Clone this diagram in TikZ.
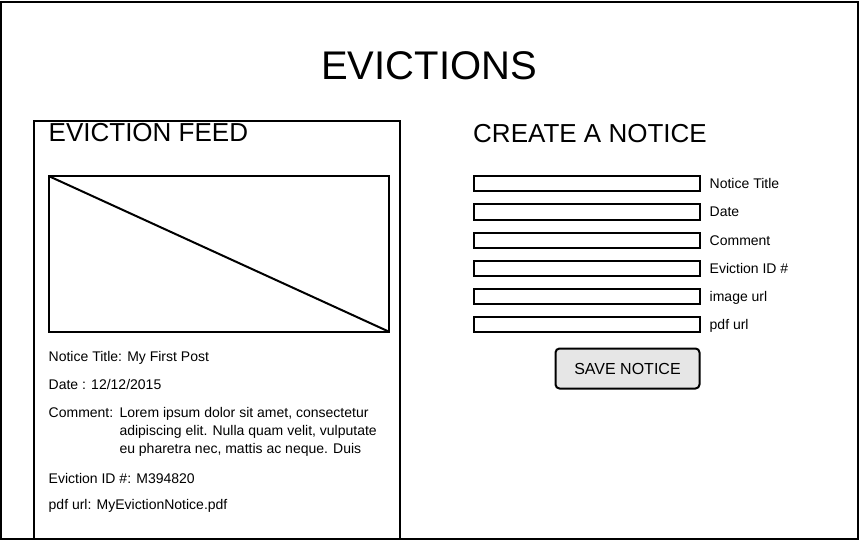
\documentclass[tikz,border=0pt]{standalone}
\usepackage{fontspec}
\setmainfont{Liberation Sans}
\usepackage{tikz}
\usetikzlibrary{positioning}
\definecolor{btngray}{RGB}{230,230,230}
\tikzset{
  frame/.style={draw=black, line width=2pt},
  field/.style={draw=black, line width=2pt, minimum width=226pt, minimum height=15pt, inner sep=0pt, outer sep=0pt, anchor=west},
  fieldlabel/.style={anchor=base west, inner sep=0pt, font=\fontsize{14}{18}\selectfont},
  feedtext/.style={anchor=base west, inner sep=0pt, font=\fontsize{14}{18}\selectfont},
  heading/.style={anchor=base west, inner sep=0pt, font=\fontsize{26}{30}\selectfont},
  savebtn/.style={draw=black, line width=2pt, rounded corners=4pt, fill=btngray, minimum width=144pt, minimum height=40pt, inner sep=0pt, outer sep=0pt, font=\fontsize{16}{20}\selectfont}
}

\begin{document}
\begin{tikzpicture}[x=1pt, y=-1pt]
			\useasboundingbox (0,0) rectangle (859,540);
			%%%%% PAGE %%%%%
			\draw[frame] (1,2) rectangle (858,539);
			\node[anchor=base, inner sep=0pt, font=\fontsize{40}{44}\selectfont] (title) at (429,80) {EVICTIONS};
			
			%%%%% FEED %%%%%
			\draw[frame] (33.5,121.5) rectangle (400,539);
			\node[heading] (feedhead) at (48.5,142) {EVICTION FEED};
			\node[draw=black, line width=2pt, minimum width=340pt, minimum height=155.5pt, inner sep=0pt, outer sep=0pt, anchor=north west] (img) at (49,176.2) {};
			\draw[line width=2pt] (img.north west) -- (img.south east);
			
			\node[feedtext] (ftitle) at (48.5,361) {Notice Title: My First Post};
			\node[feedtext] (fdate) at (48.5,389) {Date : 12/12/2015};
			\node[feedtext] (fcomment) at (48.5,417) {Comment:};
			\node[feedtext] (fbody1) at (119.3,417) {Lorem ipsum dolor sit amet, consectetur};
			\node[feedtext] (fbody2) at (119.3,435) {adipiscing elit. Nulla quam velit, vulputate};
			\node[feedtext] (fbody3) at (119.3,453) {eu pharetra nec, mattis ac neque. Duis};
			\node[feedtext] (fid) at (48.5,483) {Eviction ID \#: M394820};
			\node[feedtext] (fpdf) at (48.5,509) {pdf url: MyEvictionNotice.pdf};
			
			%%%%% CREATE %%%%%
			\node[heading] (createhead) at (473,142.5) {CREATE A NOTICE};
			
			\node[field] (intitle) at (473.5,184) {};
			\node[fieldlabel] (ltitle) at (709.5,189) {Notice Title};
			\node[field] (indate) at (473.5,212) {};
			\node[fieldlabel] (ldate) at (709.5,217) {Date};
			\node[field] (incomment) at (473.5,240) {};
			\node[fieldlabel] (lcomment) at (709.5,245) {Comment};
			\node[field] (inid) at (473.5,268) {};
			\node[fieldlabel] (lid) at (709.5,273) {Eviction ID \#};
			\node[field] (inimage) at (473.5,296) {};
			\node[fieldlabel] (limage) at (709.5,301) {image url};
			\node[field] (inpdf) at (473.5,324) {};
			\node[fieldlabel] (lpdf) at (709.5,329) {pdf url};
			
			\node[savebtn] (save) at (627.5,368.5) {SAVE NOTICE};
			%%%%% END %%%%%
\end{tikzpicture}
\end{document}
